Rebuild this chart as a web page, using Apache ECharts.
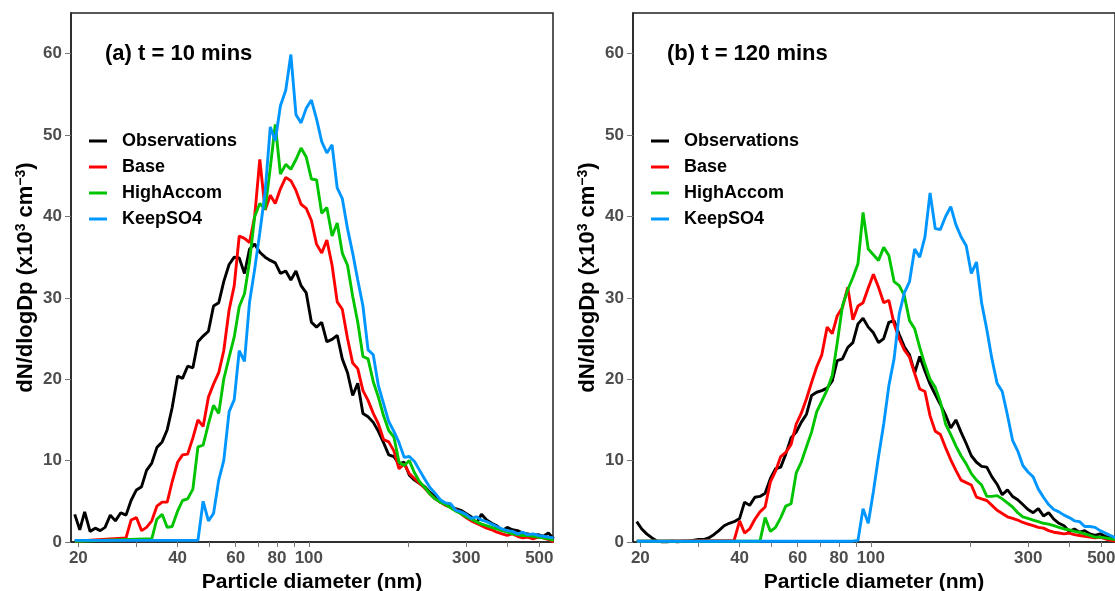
<!DOCTYPE html>
<html>
<head>
<meta charset="utf-8">
<script src="https://cdn.jsdelivr.net/npm/echarts@6/dist/echarts.min.js"></script>
<style>
  html, body { margin: 0; padding: 0; background: #fff; }
  #chart { width: 1115px; height: 591px; }
</style>
</head>
<body>
<div id="chart"></div>
<script>
// particle diameter bins (nm)
const diameters = [
  19.5, 20.2, 20.9, 21.7, 22.5, 23.3, 24.1, 25.0, 25.9, 26.9,
  27.9, 28.9, 30.0, 31.1, 32.2, 33.4, 34.6, 35.9, 37.2, 38.5,
  40.0, 41.4, 42.9, 44.5, 46.1, 47.8, 49.6, 51.4, 53.3, 55.2,
  57.3, 59.4, 61.5, 63.8, 66.1, 68.5, 71.0, 73.7, 76.4, 79.1,
  82.0, 85.1, 88.2, 91.4, 94.7, 98.2, 101.8, 105.5, 109.4, 113.4,
  117.6, 121.9, 126.3, 131.0, 135.8, 140.7, 145.9, 151.2, 156.8, 162.5,
  168.5, 174.7, 181.1, 187.7, 194.6, 201.7, 209.1, 216.7, 224.7, 232.9,
  241.4, 250.3, 259.5, 269.0, 278.8, 289.0, 299.6, 310.6, 322.0, 333.8,
  346.0, 358.7, 371.8, 385.4, 399.5, 414.2, 429.4, 445.1, 461.4, 478.3,
  495.8, 514.0, 532.8, 552.3
];

// (a) t = 10 mins
const obs10 = [
  3.4, 1.5, 3.7, 1.3, 1.7, 1.4, 1.8, 3.3, 2.6, 3.6,
  3.3, 5.1, 6.4, 6.8, 8.8, 9.7, 11.6, 12.3, 13.8, 16.5,
  20.4, 20.1, 21.6, 21.4, 24.6, 25.3, 25.9, 29.0, 29.4, 32.0,
  34.1, 35.0, 34.9, 33.0, 36.0, 36.6, 35.6, 35.0, 34.6, 34.3,
  33.0, 33.3, 32.2, 33.3, 31.5, 30.6, 27.0, 26.4, 27.0, 24.6,
  24.9, 25.4, 22.5, 20.8, 18.0, 19.5, 15.8, 15.4, 14.7, 13.6,
  12.2, 10.7, 10.5, 9.6, 9.8, 8.2, 7.6, 7.2, 6.8, 6.1,
  5.6, 4.9, 4.7, 4.3, 4.1, 3.9, 3.5, 3.1, 2.3, 3.4,
  2.7, 2.3, 2.0, 1.4, 1.8, 1.5, 1.4, 1.1, 1.0, 0.8,
  0.9, 0.7, 1.1, 0.4
];
const base10 = [
  0.1, null, null, null, null, null, null, null, null, null,
  0.5, 2.7, 3.0, 1.4, 1.8, 2.6, 4.4, 4.9, 4.9, 7.4,
  9.8, 10.7, 10.8, 12.8, 15.0, 14.2, 17.8, 19.4, 20.8, 23.5,
  28.5, 31.5, 37.6, 37.3, 36.8, 40.0, 47.0, 40.8, 42.6, 41.6,
  43.4, 44.8, 44.4, 43.2, 41.5, 41.0, 39.5, 36.6, 35.5, 37.1,
  34.0, 29.5, 28.6, 25.0, 22.0, 21.3, 18.6, 17.4, 15.8, 14.5,
  12.6, 12.3, 11.2, 9.0, 9.6, 8.4, 7.8, 7.2, 6.6, 5.9,
  5.3, 4.9, 4.5, 4.3, 4.0, 3.5, 3.0, 2.6, 2.3, 2.0,
  1.7, 1.5, 1.2, 1.0, 0.8, 1.0, 0.7, 0.5, 0.6, 0.4,
  0.6, 0.5, 0.3, 0.0
];
const high10 = [
  0.1, null, null, null, null, null, null, null, null, null,
  null, null, null, null, null, 0.4, 2.8, 3.4, 1.8, 1.9,
  3.8, 5.1, 5.3, 6.5, 11.7, 11.9, 14.5, 16.8, 15.8, 20.0,
  22.7, 25.2, 28.9, 30.5, 34.5, 40.0, 41.6, 40.9, 46.0, 51.3,
  45.2, 46.4, 45.8, 47.0, 48.4, 47.3, 44.6, 44.5, 40.4, 41.1,
  37.6, 39.2, 35.5, 34.0, 30.2, 27.0, 22.8, 22.5, 19.7, 17.8,
  15.5, 13.7, 12.9, 9.8, 9.4, 10.0, 8.5, 7.4, 6.7, 5.9,
  5.3, 4.9, 4.6, 4.2, 3.8, 3.5, 3.1, 2.8, 2.5, 2.2,
  2.0, 1.8, 1.6, 1.4, 1.2, 1.0, 0.9, 0.8, 0.8, 0.7,
  0.6, 0.5, 0.4, 0.2
];
const keep10 = [
  0.2, 0.2, 0.2, 0.2, 0.2, 0.2, 0.2, 0.2, 0.2, 0.2,
  0.2, 0.2, 0.2, 0.2, 0.2, 0.2, 0.2, 0.2, 0.2, 0.2,
  0.2, 0.2, 0.2, 0.2, 0.2, 5.0, 2.6, 3.5, 7.6, 10.0,
  16.0, 17.5, 23.5, 22.2, 29.5, 33.5, 38.0, 43.0, 51.0, 49.3,
  53.6, 55.5, 59.9, 52.5, 51.5, 53.3, 54.3, 52.0, 49.2, 47.8,
  48.8, 43.5, 42.2, 38.5, 35.5, 32.2, 29.0, 23.6, 23.0, 19.2,
  17.0, 14.8, 13.6, 12.2, 10.4, 10.5, 9.9, 8.8, 7.7, 6.7,
  6.0, 5.2, 4.8, 4.7, 3.9, 3.7, 3.4, 2.9, 3.1, 2.7,
  2.5, 2.2, 1.9, 1.6, 1.4, 1.3, 1.0, 1.2, 0.9, 1.0,
  0.8, 0.7, 0.6, 0.5
];

// (b) t = 120 mins
const obs120 = [
  2.5, 1.6, 1.0, 0.5, 0.1, 0.0, 0.0, 0.1, 0.0, 0.1,
  0.1, 0.2, 0.3, 0.3, 0.5, 0.9, 1.4, 2.0, 2.3, 2.5,
  2.9, 4.9, 4.5, 5.5, 5.6, 6.0, 7.8, 9.0, 9.2, 10.8,
  12.8, 13.5, 14.7, 15.7, 18.0, 18.4, 18.6, 18.9, 19.8, 22.3,
  22.5, 23.9, 24.5, 26.8, 27.5, 26.4, 25.7, 24.5, 25.0, 27.0,
  27.2, 25.5, 24.0, 23.0, 20.8, 22.8, 21.0, 19.4, 18.1, 16.9,
  15.6, 14.0, 15.0, 13.5, 12.1, 10.6, 9.8, 9.3, 9.2, 8.0,
  7.1, 5.8, 6.4, 5.6, 5.2, 4.6, 4.0, 3.6, 4.1, 3.2,
  3.6, 2.8, 2.3, 2.0, 1.3, 1.6, 1.2, 1.4, 1.0, 0.8,
  1.0, 0.7, 0.5, 0.2
];
const base120 = [
  0.1, null, null, null, null, null, null, null, null, null,
  null, null, null, null, null, null, null, null, null, 0.2,
  2.6, 1.1, 1.6, 2.8, 3.7, 4.3, 7.4, 8.7, 10.5, 11.0,
  12.0, 14.5, 15.8, 17.6, 19.6, 21.5, 23.0, 26.4, 25.6, 27.8,
  28.8, 31.3, 27.3, 29.0, 29.4, 31.2, 32.9, 31.3, 29.4, 29.7,
  26.8, 25.0, 23.6, 22.7, 20.7, 18.8, 18.5, 15.5, 13.6, 13.2,
  11.6, 10.1, 8.8, 7.6, 7.3, 7.0, 5.5, 5.3, 5.1, 4.5,
  3.9, 3.5, 3.1, 2.9, 2.7, 2.4, 2.2, 2.0, 1.8, 1.7,
  1.4, 1.2, 1.1, 1.0, 1.1, 0.9, 0.8, 0.7, 0.6, 0.5,
  0.6, 0.4, 0.2, 0.1
];
const high120 = [
  0.1, null, null, null, null, null, null, null, null, null,
  null, null, null, null, null, null, null, null, null, null,
  null, null, null, null, 0.1, 3.0, 1.3, 1.8, 3.0, 4.4,
  4.7, 8.5, 9.8, 11.7, 13.5, 16.0, 17.3, 18.7, 20.5, 24.5,
  29.0, 31.0, 32.5, 34.2, 40.5, 36.0, 35.3, 34.6, 36.2, 35.2,
  32.0, 31.5, 30.3, 27.2, 26.2, 23.9, 21.8, 20.0, 19.0, 17.2,
  14.5, 13.2, 11.8, 10.6, 9.6, 8.4, 7.6, 7.0, 5.6, 5.6,
  5.7, 5.3, 4.8, 4.3, 3.6, 3.1, 2.9, 2.7, 2.5, 2.3,
  2.2, 2.0, 1.8, 1.6, 1.5, 1.3, 1.2, 1.0, 0.8, 0.6,
  0.6, 0.5, 0.4, 0.3
];
const keep120 = [
  0.1, 0.1, 0.1, 0.1, 0.1, 0.1, 0.1, 0.1, 0.1, 0.1,
  0.1, 0.1, 0.1, 0.1, 0.1, 0.1, 0.1, 0.1, 0.1, 0.1,
  0.1, 0.1, 0.1, 0.1, 0.1, 0.1, 0.1, 0.1, 0.1, 0.1,
  0.1, 0.1, 0.1, 0.1, 0.1, 0.1, 0.1, 0.1, 0.1, 0.1,
  0.1, 0.1, 0.1, 0.2, 4.1, 2.3, 6.2, 10.5, 14.5, 19.2,
  22.5, 28.0, 30.6, 32.0, 36.0, 35.0, 37.5, 42.9, 38.5, 38.4,
  40.0, 41.2, 39.0, 37.5, 36.4, 33.0, 34.4, 29.4, 26.1, 22.5,
  19.5, 18.5, 15.6, 12.5, 11.2, 9.4, 8.6, 8.0, 6.5, 5.5,
  4.6, 4.0, 3.7, 3.3, 3.0, 2.6, 2.5, 1.9, 1.9, 1.8,
  1.4, 1.1, 0.8, 0.5
];

const seriesNames = ['Observations', 'Base', 'HighAccom', 'KeepSO4'];
const colors = ['#000000', '#ff0000', '#00c400', '#0096ff'];
const panelTitles = ['(a) t = 10 mins', '(b) t = 120 mins'];
const xTickValues = [20, 30, 40, 50, 60, 70, 80, 90, 100, 200, 300, 400, 500];
const xLabelValues = [20, 40, 60, 80, 100, 300, 500];
const yTickValues = [0, 10, 20, 30, 40, 50, 60];

const panels = [
  [obs10, base10, high10, keep10],
  [obs120, base120, high120, keep120]
];

const font = "'Liberation Sans', Arial, sans-serif";
const gridLefts = [71, 633];

function pairs(vals) {
  return diameters.map((d, i) => [d, vals[i]]).filter(p => p[1] !== null);
}

const chart = echarts.init(document.getElementById('chart'));

const grids = gridLefts.map(l => ({
  left: l, top: 13, width: 482, height: 529,
  containLabel: false, outerBoundsMode: 'none',
  show: true, borderColor: '#222', borderWidth: 1.5, backgroundColor: 'transparent'
}));

const xAxes = gridLefts.map((l, i) => ({
  type: 'log', logBase: 10, gridIndex: i, min: 19, max: 550,
  axisLine: { show: true, onZero: false, lineStyle: { color: '#222', width: 1.5 } },
  axisTick: { show: true, length: 5, customValues: xTickValues, lineStyle: { color: '#777', width: 1 } },
  axisLabel: {
    customValues: xLabelValues, margin: 8,
    fontFamily: font, fontWeight: 'bold', fontSize: 17, color: '#4d4d4d'
  },
  splitLine: { show: false },
  name: 'Particle diameter (nm)', nameLocation: 'middle', nameGap: 25,
  nameTextStyle: { fontFamily: font, fontWeight: 'bold', fontSize: 21, color: '#000' }
}));

const yAxes = gridLefts.map((l, i) => ({
  type: 'value', gridIndex: i, min: 0, max: 65,
  axisLine: { show: true, lineStyle: { color: '#222', width: 1.5 } },
  axisTick: { show: true, length: 6, customValues: yTickValues, lineStyle: { color: '#777', width: 1 } },
  axisLabel: {
    customValues: yTickValues, margin: 9,
    fontFamily: font, fontWeight: 'bold', fontSize: 17, color: '#4d4d4d'
  },
  splitLine: { show: false },
  name: '{n|dN/dlogDp (x10}{s|3}{n| cm}{s|\u22123}{n|)}',
  nameLocation: 'middle', nameGap: 33,
  nameTextStyle: {
    rich: {
      n: { fontFamily: font, fontWeight: 'bold', fontSize: 22, color: '#000', lineHeight: 24 },
      s: { fontFamily: font, fontWeight: 'bold', fontSize: 14, color: '#000', verticalAlign: 'top', lineHeight: 12 }
    }
  }
}));

const series = [];
panels.forEach((set, p) => {
  set.forEach((vals, k) => {
    series.push({
      name: seriesNames[k], type: 'line',
      xAxisIndex: p, yAxisIndex: p,
      data: pairs(vals),
      symbol: 'none', showSymbol: false, clip: true,
      lineStyle: { color: colors[k], width: 2.9 },
      itemStyle: { color: colors[k] },
      z: 2 + k
    });
  });
});

chart.setOption({
  animation: false,
  backgroundColor: '#fff',
  title: panelTitles.map((t, i) => ({
    text: t, left: gridLefts[i] + 34, top: 43, padding: 0,
    textStyle: { fontFamily: font, fontWeight: 'bold', fontSize: 22, color: '#000' }
  })),
  legend: gridLefts.map(l => ({
    data: seriesNames, orient: 'vertical', left: l + 18, top: 132, padding: 0,
    icon: 'rect', itemWidth: 18, itemHeight: 3, itemGap: 8,
    textStyle: { fontFamily: font, fontWeight: 'bold', fontSize: 18, color: '#000', lineHeight: 18, padding: [0, 0, 0, 10] },
    selectedMode: false
  })),
  grid: grids,
  xAxis: xAxes,
  yAxis: yAxes,
  series: series
});
</script>
</body>
</html>
